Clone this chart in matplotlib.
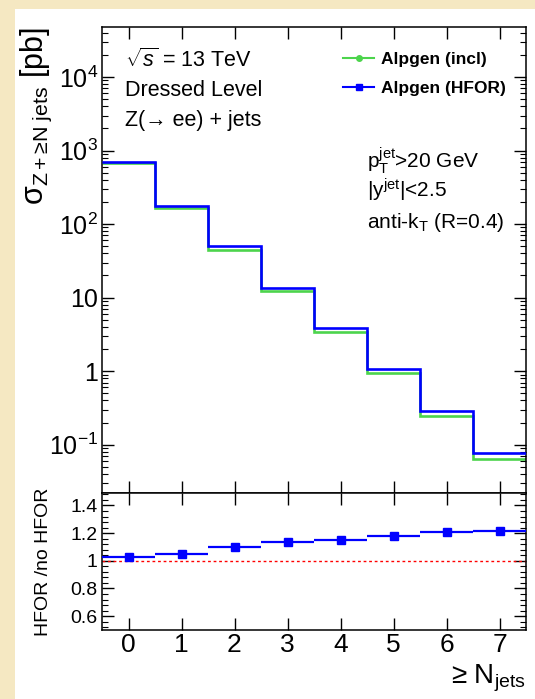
#!/usr/bin/env python3
# -*- coding: utf-8 -*-
"""
Z(->ee)+jets, seccion eficaz inclusiva vs >= N jets: Alpgen incl vs HFOR,
con panel de cociente abajo.
"""
import matplotlib
matplotlib.use("Agg")
import matplotlib.pyplot as plt
from matplotlib.lines import Line2D
from matplotlib.patches import Rectangle
from matplotlib.ticker import FixedLocator, FixedFormatter, LogLocator, NullFormatter, MultipleLocator

plt.rcParams["font.family"] = ["Liberation Sans", "DejaVu Sans"]
plt.rcParams["mathtext.fontset"] = "custom"
plt.rcParams["mathtext.rm"] = "Liberation Sans"
plt.rcParams["mathtext.it"] = "Liberation Sans:italic"
plt.rcParams["mathtext.bf"] = "Liberation Sans:bold"

# datos
njets = [0, 1, 2, 3, 4, 5, 6, 7]
bin_edges = [-0.5, 0.5, 1.5, 2.5, 3.5, 4.5, 5.5, 6.5, 7.5]
xsec_incl = [684, 167, 45, 12.2, 3.4, 0.93, 0.245, 0.063]
xsec_hfor = [705, 177, 50, 13.6, 3.9, 1.07, 0.29, 0.076]
ratio_hfor = [1.024, 1.051, 1.102, 1.136, 1.153, 1.177, 1.208, 1.216]

ytick_vals = [1e-1, 1, 10, 1e2, 1e3, 1e4]
ytick_labels = [r"$\mathregular{10^{-1}}$", "1", "10",
                r"$\mathregular{10^{2}}$", r"$\mathregular{10^{3}}$", r"$\mathregular{10^{4}}$"]
rtick_vals = [0.6, 0.8, 1.0, 1.2, 1.4]
rtick_labels = ["0.6", "0.8", "1", "1.2", "1.4"]

GREEN = "#4cd44c"
BLUE = "#0000ff"
W, H = 535, 699


def px(x, y):
    """pixeles de la imagen -> fraccion de figura"""
    return x / W, 1 - y / H


fig = plt.figure(figsize=(W / 100, H / 100), dpi=100)
fig.patch.set_facecolor("#f5e8c2")
fig.patches.append(Rectangle(px(15, H), (W - 15) / W, (H - 9) / H,
                             transform=fig.transFigure, facecolor="white",
                             edgecolor="none", zorder=-10))

left, right = px(102, 0)[0], px(526, 0)[0]
top_y, mid_y, bot_y = px(0, 27)[1], px(0, 493)[1], px(0, 630)[1]
ax = fig.add_axes([left, mid_y, right - left, top_y - mid_y])
axr = fig.add_axes([left, bot_y, right - left, mid_y - bot_y], sharex=ax)

# panel superior (sin bordes verticales en los extremos)
ax.stairs(xsec_incl, bin_edges, baseline=None, color=GREEN, linewidth=1.9, zorder=2)
ax.stairs(xsec_hfor, bin_edges, baseline=None, color=BLUE, linewidth=1.9, zorder=3)
ax.set_yscale("log")
ax.set_ylim(0.022, 4.8e4)
ax.set_xlim(-0.5, 7.5)
ax.yaxis.set_major_locator(FixedLocator(ytick_vals))
ax.yaxis.set_major_formatter(FixedFormatter(ytick_labels))
ax.yaxis.set_minor_locator(LogLocator(base=10, subs=range(2, 10), numticks=20))
ax.yaxis.set_minor_formatter(NullFormatter())
ax.set_xticks(njets)
ax.tick_params(axis="x", which="both", labelbottom=False)
ax.tick_params(which="major", direction="in", top=True, right=True,
               length=8.5, width=1, labelsize=18, pad=3)
ax.tick_params(which="minor", direction="in", top=True, right=True,
               length=4.5, width=0.8)

for s in ax.spines.values():
    s.set_linewidth(1.1)

# textos
fig.text(*px(125, 67), r"$\sqrt{s}$ = 13 TeV", fontsize=15.5, va="baseline")
fig.text(*px(125, 96), "Dressed Level", fontsize=15.5, va="baseline")
fig.text(*px(125, 126), "Z(→ ee) + jets", fontsize=15.5, va="baseline")
fig.text(*px(367, 168), r"p$_{\mathregular{T}}^{\mathregular{jet}}$>20 GeV",
         fontsize=15, va="baseline")
fig.text(*px(367, 198), r"|y$^{\mathregular{jet}}$|<2.5", fontsize=15, va="baseline")
fig.text(*px(367, 228), r"anti-k$_{\mathregular{T}}$ (R=0.4)", fontsize=15, va="baseline")

handles = [
    Line2D([0], [0], color=GREEN, linewidth=1.5, marker="o", markersize=4),
    Line2D([0], [0], color=BLUE, linewidth=1.5, marker="s", markersize=4.5),
]
leg = ax.legend(handles, ["Alpgen (incl)", "Alpgen (HFOR)"], loc="upper left",
                bbox_to_anchor=px(343, 52), bbox_transform=fig.transFigure,
                frameon=False, borderpad=0, borderaxespad=0, handlelength=1.8,
                handletextpad=0.4, labelspacing=0.8,
                prop={"weight": "bold", "size": 12.5})

fig.text(*px(36, 27), r"σ$_{\mathregular{Z+≥ N\ jets}}$ [pb]", rotation=90,
         fontsize=22, ha="center", va="top")

# panel de cociente
axr.errorbar(njets, ratio_hfor, xerr=0.5, fmt="s", color=BLUE, markersize=6,
             elinewidth=1.6, capsize=0, zorder=3)
axr.axhline(1.0, color="red", linestyle=(0, (2, 2)), linewidth=1, zorder=2)
axr.set_ylim(0.5, 1.49)
axr.set_xlim(-0.5, 7.5)
axr.yaxis.set_major_locator(FixedLocator(rtick_vals))
axr.yaxis.set_major_formatter(FixedFormatter(rtick_labels))
axr.yaxis.set_minor_locator(MultipleLocator(0.04))
axr.set_xticks(njets)
axr.tick_params(axis="x", which="major", labelsize=19, pad=2)
axr.tick_params(axis="y", which="major", labelsize=14, pad=3)
axr.tick_params(which="major", direction="in", top=True, right=True,
                length=8.5, width=1)
axr.tick_params(which="minor", direction="in", right=True, length=4.5, width=0.8)
for s in axr.spines.values():
    s.set_linewidth(1.1)

fig.text(*px(44, 562), "HFOR /no HFOR", rotation=90, fontsize=14,
         ha="center", va="center")
fig.text(*px(526, 684), r"≥ N$_{\mathregular{jets}}$", fontsize=20,
         ha="right", va="baseline")

fig.savefig("out.png", dpi=100)
